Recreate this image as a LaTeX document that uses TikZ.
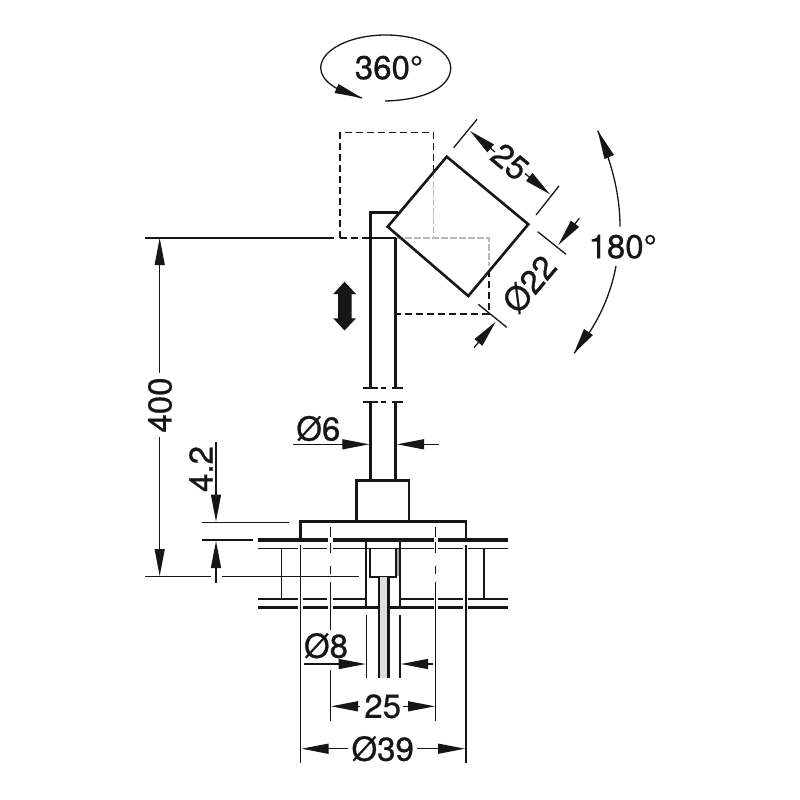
\documentclass[tikz,border=0pt]{standalone}
\usepackage{fontspec}
\setmainfont{TeX Gyre Heros}
\newfontfamily\dimfont[FakeBold=0.7]{TeX Gyre Heros}
\usetikzlibrary{arrows.meta}
\definecolor{ink}{HTML}{161616}
\tikzset{
  x=1pt,y=-1pt,
  thinl/.style={draw=ink,line width=1.3pt},
  midl/.style={draw=ink,line width=2.6pt},
  boldl/.style={draw=ink,line width=3.4pt},
  hidden/.style={draw=ink,line width=1.3pt,dash pattern=on 7pt off 4pt},
  ghidden/.style={draw=black!28,line width=1.3pt,dash pattern=on 7pt off 2pt},
  dimline/.style={thinl,-{Triangle[length=27pt,width=10pt,fill=ink]}},
  lab/.style={font=\dimfont\fontsize{33}{33}\selectfont,text=ink,inner sep=0pt},
}
\begin{document}
\begin{tikzpicture}
\useasboundingbox (0,0) rectangle (800,800);
% dashed alternative positions
\draw[hidden] (340,238) -- (340,132.5) -- (433.5,132.5) -- (433.5,171);
\draw[ghidden] (433.5,172) -- (433.5,238);
\draw[ghidden] (396,238) -- (489,238) -- (489,266);
\draw[hidden] (489,270) -- (489,314) -- (397,314);
\draw[hidden] (340,238) -- (370,238);
% post
\draw[midl] (370.3,388) -- (370.3,212.5) -- (398,212.5);
\draw[midl] (395.7,388) -- (395.7,238);
\draw[midl] (370.3,238) -- (396,238);
\draw[midl] (370.3,402) -- (370.3,480.7);
\draw[midl] (395.7,402) -- (395.7,480.7);
\foreach \yy in {388,402}{
  \draw[thinl] (362.7,\yy) -- (378.3,\yy) (381,\yy) -- (385.7,\yy) (392.3,\yy) -- (403.3,\yy);
}
% lamp head
\draw[midl,line join=miter] (446.7,156.7) -- (528.3,224.3) -- (468.3,296) -- (387.7,226.7) -- cycle;
% collar and flange
\draw[midl] (356.7,521.7) -- (356.7,480.7) -- (409,480.7) -- (409,521.7);
\draw[midl] (300.5,540) -- (300.5,521.7) -- (466,521.7) -- (466,540);
% mounting plate
\draw[boldl] (258.3,540) -- (328,540) (332.7,540) -- (434,540) (437.7,540) -- (507.7,540);
\draw[boldl] (258.3,607.3) -- (298,607.3) (303,607.3) -- (327.5,607.3) (332.7,607.3) -- (434,607.3) (438.3,607.3) -- (463,607.3) (468.3,607.3) -- (507.7,607.3);
\foreach \yy in {548.3,599}{
  \draw[thinl] (258.3,\yy) -- (298.3,\yy) (302.7,\yy) -- (327.3,\yy) (332.7,\yy) -- (366,\yy)
    (400,\yy) -- (434,\yy) (438.3,\yy) -- (462.7,\yy) (468.3,\yy) -- (507.7,\yy);
}
\draw[thinl] (281.7,548.3) -- (281.7,599) (484,548.3) -- (484,599);
% hole and plug
\draw[midl] (366,540) -- (366,607.3) (400,540) -- (400,607.3);
\draw[thinl] (366,548.3) -- (400,548.3);
\draw[line width=1.5pt,draw=black!35] (397.9,549) -- (397.9,576);
\draw[midl] (370,548.5) -- (370,577) -- (396,577) -- (396,548.5);
% cable
\fill[black!13] (379,577) rectangle (388.3,678);
\draw[midl] (379,577) -- (379,678) (388.3,577) -- (388.3,678);
\draw[thinl] (366.3,615) -- (366.3,678) (400,615) -- (400,678);
% extension lines
\draw[thinl] (300.5,545) -- (300.5,763) (466,545) -- (466,763);
\draw[thinl] (330.3,527) -- (330.3,537) (330.3,543) -- (330.3,553) (330.3,566) -- (330.3,574) (330.3,582) -- (330.3,630) (330.3,670) -- (330.3,720.7);
\draw[thinl] (435.7,527) -- (435.7,537) (435.7,542) -- (435.7,553) (435.7,566) -- (435.7,574) (435.7,582) -- (435.7,720.7);
\draw[thinl] (145,238) -- (334,238);
\draw[thinl] (145,576.7) -- (211,576.7) (222.3,576.7) -- (359,576.7);
\draw[thinl] (201.7,522.3) -- (289,522.3);
\draw[thinl] (201.7,540) -- (252.7,540);
% 400
\node[lab,rotate=90] (d400) at (160,405) {400};
\draw[dimline] (159.7,372.7) -- (159.7,238);
\draw[dimline] (159.7,437) -- (159.7,576);
% 4.2
\node[lab,rotate=90] (d42) at (201,469) {4.2};
\draw[dimline] (216,442) -- (216,521.5);
\draw[dimline] (216,582.7) -- (216,541);
% O6
\node[lab] (dsix) at (318.3,428.5) {Ø6};
\draw[dimline] (293.3,444.3) -- (369.3,444.3);
\draw[dimline] (439,444.3) -- (397,444.3);
% O8
\node[lab] (deight) at (326,645.7) {Ø8};
\draw[dimline] (304,664) -- (365.7,664);
\draw[dimline] (433.3,664) -- (401,664);
% 25 bottom
\node[lab] (dtwfb) at (382.7,706.3) {25};
\draw[dimline] (360,706.3) -- (331,706.3);
\draw[dimline] (403.3,706.3) -- (435,706.3);
% O39
\node[lab] (dthn) at (382.7,748.7) {Ø39};
\draw[dimline] (348.3,748.7) -- (301.5,748.7);
\draw[dimline] (416.7,748.7) -- (465,748.7);
% 25 top
\draw[thinl] (453.7,147.7) -- (477,119.3) (536,215) -- (559,186);
\node[lab,rotate=-40] (dtwft) at (510,161.7) {25};
\draw[dimline] (495,152) -- (470,131);
\draw[dimline] (525,173.5) -- (550,194.3);
% O22
\draw[thinl] (537.7,231.7) -- (566,254.3) (478.3,304.3) -- (506.7,327.3);
\node[lab,rotate=50] (dttwo) at (529.3,284) {Ø22};
\draw[dimline] (579.3,218.3) -- (558.3,245);
\draw[dimline] (474,347.7) -- (495.7,321.7);
% 180
\node[lab] (doneeighty) at (622.7,246.7) {180°};
\draw[thinl] (620,226.7) .. controls (620,195) and (612,163) .. (597.7,130.7);
\draw[thinl] (616,266) .. controls (610,298) and (596,327) .. (574,353.3);
\fill[ink] (597.7,130.7) -- (614,155) -- (604.5,159) -- cycle;
\fill[ink] (574,353.3) -- (584,329) -- (593,335) -- cycle;
% 360
\node[lab] (dthreesixty) at (389,67.7) {360°};
\draw[thinl] (385,101) .. controls (427,100) and (450.7,86) .. (450.7,68)
  .. controls (450.7,50) and (421,35) .. (385.7,35)
  .. controls (350,35) and (320.7,50) .. (320.7,68)
  .. controls (320.7,81) and (338,92) .. (362,98);
\fill[ink] (362,98) -- (334.5,93) -- (338.5,84) -- cycle;
% height arrow
\fill[ink] (344.5,281.7) -- (356,294) -- (351.5,294) -- (351.5,318.3) -- (356,318.3) -- (344.5,330.5) -- (333.3,318.3) -- (338,318.3) -- (338,294) -- (333.3,294) -- cycle;
\end{tikzpicture}
\end{document}
